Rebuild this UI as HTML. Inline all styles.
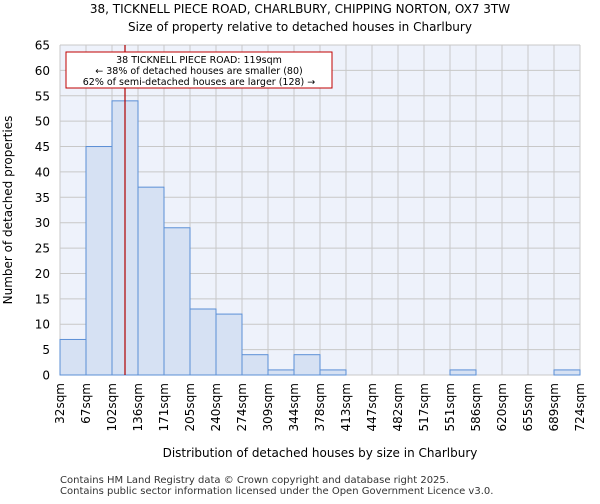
<!DOCTYPE html>
<html><head><meta charset="utf-8"><style>
body{margin:0;background:#fff;font-family:"DejaVu Sans","Liberation Sans",sans-serif}
</style></head><body>
<svg width="600" height="500" xmlns="http://www.w3.org/2000/svg" font-family="DejaVu Sans, Liberation Sans, sans-serif">
<text x="300" y="13" text-anchor="middle" font-size="12">38, TICKNELL PIECE ROAD, CHARLBURY, CHIPPING NORTON, OX7 3TW</text>
<text x="300" y="31" text-anchor="middle" font-size="12">Size of property relative to detached houses in Charlbury</text>
<rect x="60" y="45" width="520" height="330" fill="#eef2fb"/>
<g id="grid"></g><g id="bars"></g><g id="axes"></g>
<line id="marker" stroke="#b00000" stroke-width="1.2"/>
<rect x="66" y="52" width="266" height="36" fill="#fff" stroke="#c00000" stroke-width="1"/>
<text x="199" y="63" text-anchor="middle" font-size="9.5">38 TICKNELL PIECE ROAD: 119sqm</text>
<text x="199" y="74" text-anchor="middle" font-size="9.5">← 38% of detached houses are smaller (80)</text>
<text x="199" y="85" text-anchor="middle" font-size="9.5">62% of semi-detached houses are larger (128) →</text>
<text x="320" y="457" text-anchor="middle" font-size="12">Distribution of detached houses by size in Charlbury</text>
<text transform="translate(12,210) rotate(-90)" text-anchor="middle" font-size="12">Number of detached properties</text>
<text x="60" y="483" font-size="10" fill="#333">Contains HM Land Registry data © Crown copyright and database right 2025.</text>
<text x="60" y="494" font-size="10" fill="#333">Contains public sector information licensed under the Open Government Licence v3.0.</text>
</svg>
<script>
const binLabels=["32sqm","67sqm","102sqm","136sqm","171sqm","205sqm","240sqm","274sqm","309sqm","344sqm","378sqm","413sqm","447sqm","482sqm","517sqm","551sqm","586sqm","620sqm","655sqm","689sqm","724sqm"];
const binEdges=[32,67,102,136,171,205,240,274,309,344,378,413,447,482,517,551,586,620,655,689,724];
const counts=[7,45,54,37,29,13,12,4,1,4,1,0,0,0,0,1,0,0,0,1];
const yTicks=[0,5,10,15,20,25,30,35,40,45,50,55,60,65];
const propertySize=119;
const L=60,R=580,T=45,B=375,NS="http://www.w3.org/2000/svg";
const xi=i=>L+i*(R-L)/counts.length;
const xv=v=>{for(let i=0;i<binEdges.length-1;i++){if(v<=binEdges[i+1])return xi(i)+(v-binEdges[i])/(binEdges[i+1]-binEdges[i])*(xi(i+1)-xi(i));}return R;};
const y=v=>B-v*(B-T)/65;
function mk(t,a,p){const e=document.createElementNS(NS,t);for(const k in a)e.setAttribute(k,a[k]);p.appendChild(e);return e;}
const g=document.getElementById('grid'),b=document.getElementById('bars'),ax=document.getElementById('axes');
yTicks.forEach(t=>{const l=mk('line',{x1:L,x2:R,y1:y(t),y2:y(t),stroke:'#c8c8c8','stroke-width':1},g);

const tx=mk('text',{x:L-10,y:y(t)+4.5,'text-anchor':'end','font-size':12},ax);tx.textContent=t;
});
binLabels.forEach((s,i)=>{const l=mk('line',{x1:xi(i),x2:xi(i),y1:T,y2:B,stroke:'#c8c8c8','stroke-width':1},g);

const tx=mk('text',{x:0,y:0,'text-anchor':'end','font-size':12,transform:`translate(${xi(i)+4},${B+8}) rotate(-90)`},ax);tx.textContent=s;
});
counts.forEach((c,i)=>{if(c<=0)return;const r=mk('rect',{x:xi(i),y:y(c),width:xi(i+1)-xi(i),height:B-y(c),fill:'#d6e1f3',stroke:'#5b8fd6','stroke-width':1},b);
});
const m=document.getElementById('marker');const mx=xv(propertySize);
m.setAttribute('x1',mx);m.setAttribute('x2',mx);m.setAttribute('y1',T);m.setAttribute('y2',B);
</script>
</body></html>
